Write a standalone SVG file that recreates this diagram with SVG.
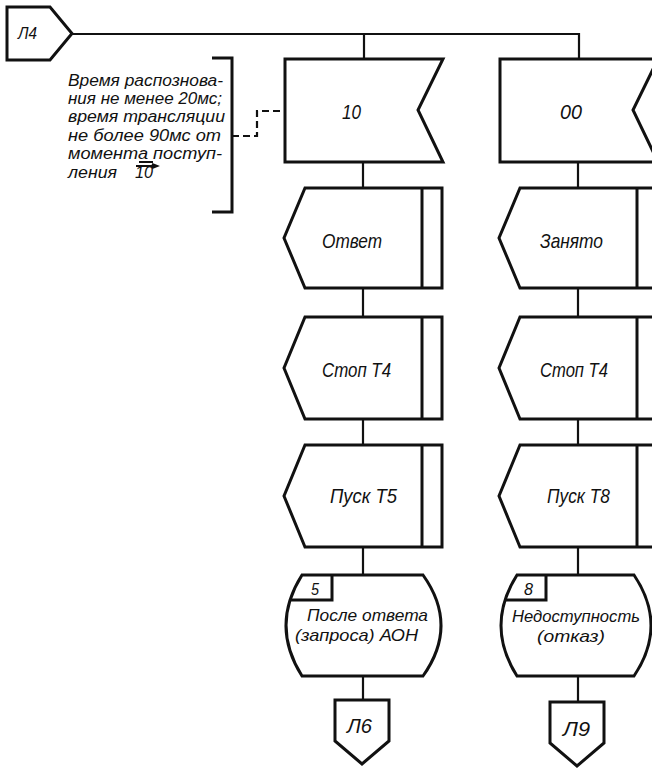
<svg xmlns="http://www.w3.org/2000/svg" width="652" height="769" viewBox="0 0 652 769">
<style>
.n{fill:#fff;stroke:#111;stroke-width:3;stroke-linejoin:miter}
.b{fill:none;stroke:#111;stroke-width:3}
.c{fill:none;stroke:#111;stroke-width:2.2}
.d{fill:none;stroke:#111;stroke-width:2.2;stroke-dasharray:7,4}
text{font-family:"Liberation Sans","DejaVu Sans",sans-serif;font-style:italic;fill:#111}
.l{font-size:21px}
.s{font-size:17px}
.m{font-size:16px}
</style>
<rect width="652" height="769" fill="#fff"/>
<g id="connectors">
<path class="c" d="M72,34 H579 V59"/>
<path class="c" d="M364,34 V59"/>
<path class="c" d="M363,162 V188 M363,288 V317 M363,419 V445 M363,547 V575 M363,676 V700"/>
<path class="c" d="M578,162 V188 M578,288 V317 M578,419 V445 M578,547 V575 M578,676 V702"/>
<path class="d" d="M232,136 H257 V111 H285"/>
</g>
<g id="L4">
<polygon class="n" points="7,7 50,7 72,33.5 50,60 7,60"/>
<text class="m" x="18" y="39" textLength="19" lengthAdjust="spacingAndGlyphs">Л4</text>
</g>
<g id="comment">
<path class="b" d="M212,58 H232 V212 H212"/>
<text class="m" x="68" y="86" textLength="155" lengthAdjust="spacingAndGlyphs">Время распознова-</text>
<text class="m" x="68" y="104" textLength="154" lengthAdjust="spacingAndGlyphs">ния не менее 20мс;</text>
<text class="m" x="68" y="122" textLength="157" lengthAdjust="spacingAndGlyphs">время трансляции</text>
<text class="m" x="68" y="141" textLength="153" lengthAdjust="spacingAndGlyphs">не более 90мс от</text>
<text class="m" x="68" y="159" textLength="154" lengthAdjust="spacingAndGlyphs">момента поступ-</text>
<text class="m" x="68" y="178" textLength="49" lengthAdjust="spacingAndGlyphs">ления</text>
<text class="m" x="135" y="178" textLength="18" lengthAdjust="spacingAndGlyphs">10</text>
<path class="c" stroke-width="1.5" d="M139,162 H153 M136,166 H157 M152,164 L157,166 L152,168"/>
</g>
<g id="sig10">
<polygon class="n" points="285,59 443,59 418,110 443,162 285,162"/>
<text class="l" x="342" y="119" textLength="19" lengthAdjust="spacingAndGlyphs">10</text>
</g>
<g id="sig00">
<polygon class="n" points="500,59 658,59 633,110 658,162 500,162"/>
<text class="l" x="560" y="119" textLength="22" lengthAdjust="spacingAndGlyphs">00</text>
</g>
<g id="otvet">
<polygon class="n" points="305,188 442,188 442,288 305,288 284,238"/>
<path class="b" d="M422,188 V288"/>
<text class="l" x="322" y="248" textLength="60" lengthAdjust="spacingAndGlyphs">Ответ</text>
</g>
<g id="stopT4a">
<polygon class="n" points="305,317 442,317 442,419 305,419 284,368"/>
<path class="b" d="M422,317 V419"/>
<text class="l" x="322" y="377" textLength="69" lengthAdjust="spacingAndGlyphs">Стоп Т4</text>
</g>
<g id="puskT5">
<polygon class="n" points="305,445 442,445 442,547 305,547 284,496"/>
<path class="b" d="M422,445 V547"/>
<text class="l" x="330" y="503" textLength="67" lengthAdjust="spacingAndGlyphs">Пуск Т5</text>
</g>
<g id="state5">
<path class="n" d="M302,575 H423 Q459,625.5 423,676 H302 Q270,625.5 302,575 Z"/>
<path class="b" d="M290,600 H332 V575"/>
<text class="m" x="311" y="595" textLength="8" lengthAdjust="spacingAndGlyphs">5</text>
<text class="s" x="307" y="621" textLength="121" lengthAdjust="spacingAndGlyphs">После ответа</text>
<text class="s" x="295" y="641" textLength="123" lengthAdjust="spacingAndGlyphs">(запроса) АОН</text>
</g>
<g id="L6">
<polygon class="n" points="335,700 389,700 389,741 362,764 335,741"/>
<text class="l" x="347" y="733" textLength="25" lengthAdjust="spacingAndGlyphs">Л6</text>
</g>
<g id="zanyato">
<polygon class="n" points="520,188 657,188 657,288 520,288 499,238"/>
<path class="b" d="M637,188 V288"/>
<text class="l" x="540" y="248" textLength="63" lengthAdjust="spacingAndGlyphs">Занято</text>
</g>
<g id="stopT4b">
<polygon class="n" points="520,317 657,317 657,419 520,419 499,368"/>
<path class="b" d="M637,317 V419"/>
<text class="l" x="540" y="377" textLength="68" lengthAdjust="spacingAndGlyphs">Стоп Т4</text>
</g>
<g id="puskT8">
<polygon class="n" points="520,445 657,445 657,547 520,547 499,496"/>
<path class="b" d="M637,445 V547"/>
<text class="l" x="547" y="503" textLength="63" lengthAdjust="spacingAndGlyphs">Пуск Т8</text>
</g>
<g id="state8">
<path class="n" d="M517,575 H634 Q668,625.5 634,676 H517 Q485,625.5 517,575 Z"/>
<path class="b" d="M505,600 H546 V575"/>
<text class="m" x="524" y="595" textLength="9" lengthAdjust="spacingAndGlyphs">8</text>
<text class="s" x="512" y="622" textLength="128" lengthAdjust="spacingAndGlyphs">Недоступность</text>
<text class="s" x="537" y="642" textLength="68" lengthAdjust="spacingAndGlyphs">(отказ)</text>
</g>
<g id="L9">
<polygon class="n" points="550,702 604,702 604,743 577,766 550,743"/>
<text class="l" x="563" y="736" textLength="27" lengthAdjust="spacingAndGlyphs">Л9</text>
</g>
</svg>
